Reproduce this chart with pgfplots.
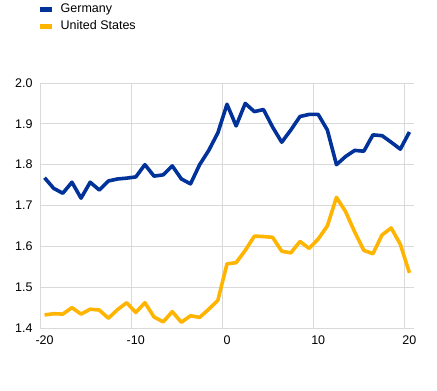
\documentclass[border=0pt]{standalone}
\usepackage{pgfplots}
\pgfplotsset{compat=1.18}
\usepackage{fontspec}
\setmainfont{Liberation Sans}
\definecolor{ecbblue}{HTML}{003299}
\definecolor{ecbyellow}{HTML}{FFB400}
\definecolor{gridgray}{HTML}{D9D9D9}
\begin{document}
\begin{tikzpicture}
\useasboundingbox (-40bp,-63bp) rectangle (397bp,328bp);
\begin{axis}[
  at={(0,0)}, anchor=south west,
  scale only axis, width=374bp, height=245bp,
  xmin=-20.5, xmax=20.5, ymin=1.4, ymax=2.0,
  xtick={-20,-10,0,10,20},
  extra x ticks={-10.5,-0.5,9.5,19.5},
  extra x tick labels={},
  extra x tick style={grid=major, major grid style={gridgray, line width=0.9pt}},
  ytick={1.4,1.5,1.6,1.7,1.8,1.9,2.0},
  ymajorgrids, major grid style={gridgray, line width=0.9pt},
  major tick length=0pt,
  axis lines=left, axis line style={gridgray, line width=0.9pt, -},
  tick label style={font=\fontsize{12.5bp}{14bp}\selectfont, text=black},
  /pgf/number format/assume math mode=true,
  xticklabel style={yshift=-4bp},
  yticklabel style={xshift=-4bp, /pgf/number format/fixed, /pgf/number format/fixed zerofill, /pgf/number format/precision=1},
  legend style={at={(0,1)}, anchor=north west, xshift=-3bp, yshift=81bp, draw=none, fill=none,
    font=\fontsize{12.5bp}{14bp}\selectfont, row sep=2.5bp, inner sep=0pt,
    /tikz/every even column/.append style={column sep=0bp}},
  legend cell align=left,
  legend image code/.code={\draw[#1, line width=5bp] (0bp,0bp) -- (12bp,0bp); \path[draw=none] (0bp,0bp) -- (19bp,0bp);},
  clip=false,
]
\addplot[ecbblue, line width=3.6bp, line join=round] coordinates {
(-20,1.768) (-19,1.742) (-18,1.730) (-17,1.757) (-16,1.718) (-15,1.757) (-14,1.738)
(-13,1.760) (-12,1.765) (-11,1.767) (-10,1.770) (-9,1.800) (-8,1.772) (-7,1.775)
(-6,1.797) (-5,1.765) (-4,1.753) (-3,1.800) (-2,1.835) (-1,1.878) (0,1.948)
(1,1.895) (2,1.950) (3,1.930) (4,1.935) (5,1.892) (6,1.855) (7,1.885) (8,1.918)
(9,1.923) (10,1.923) (11,1.885) (12,1.800) (13,1.820) (14,1.835) (15,1.833)
(16,1.873) (17,1.871) (18,1.855) (19,1.838) (20,1.880)
};
\addlegendentry{Germany}
\addplot[ecbyellow, line width=3.6bp, line join=round] coordinates {
(-20,1.432) (-19,1.435) (-18,1.434) (-17,1.450) (-16,1.434) (-15,1.446) (-14,1.444)
(-13,1.424) (-12,1.445) (-11,1.462) (-10,1.438) (-9,1.462) (-8,1.427) (-7,1.415)
(-6,1.440) (-5,1.414) (-4,1.430) (-3,1.426) (-2,1.446) (-1,1.468) (0,1.557)
(1,1.560) (2,1.590) (3,1.625) (4,1.624) (5,1.622) (6,1.588) (7,1.584) (8,1.612)
(9,1.595) (10,1.618) (11,1.650) (12,1.720) (13,1.685) (14,1.635) (15,1.590)
(16,1.582) (17,1.628) (18,1.645) (19,1.605) (20,1.535)
};
\addlegendentry{United States}
\end{axis}
\end{tikzpicture}
\end{document}
